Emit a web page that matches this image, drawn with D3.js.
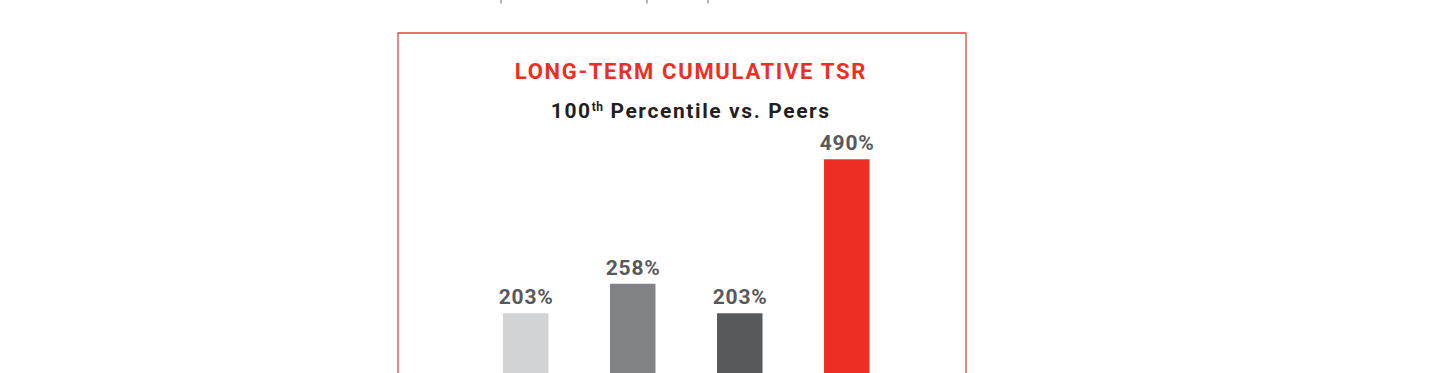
<!DOCTYPE html>
<html>
<head>
<meta charset="utf-8">
<script src="https://cdn.jsdelivr.net/npm/d3@7"></script>
<style>
  body { margin: 0; background: #fff; }
  text { font-family: Roboto, "Liberation Sans", sans-serif; font-weight: 700; }
</style>
</head>
<body>
<div id="chart"></div>
<script>
var categories = ["Peer Median", "Peer Top Quartile", "Index", "Company"];
var values = [203, 258, 203, 490];
var labels = ["203%", "258%", "203%", "490%"];
var colors = ["#d1d3d4", "#808285", "#58595b", "#ee2e24"];
var title = "LONG-TERM CUMULATIVE TSR";
var subtitle = ["100", "th", " Percentile vs. Peers"];
var topRules = [501, 647, 708];

var W = 1440, H = 373;
var box = {left: 398, top: 33, right: 966};
var plot = {left: 503, right: 869.5, base: 422.2, top: 153.9};

var svg = d3.select("#chart").append("svg").attr("width", W).attr("height", H);

// cut-off separators from the block above
svg.selectAll("line.rule").data(topRules).enter().append("line")
  .attr("x1", function(d) { return d; }).attr("x2", function(d) { return d; })
  .attr("y1", 0).attr("y2", 3.5)
  .style("stroke", "#6d6e71").style("stroke-width", 1);

// frame (runs past the bottom of the window)
svg.append("path")
  .attr("d", "M" + box.left + "," + (H + 20) + "V" + box.top + "H" + box.right + "V" + (H + 20))
  .style("fill", "none").style("stroke", "#e8423b").style("stroke-width", 1.3);

var cx = 690;
svg.append("text").attr("x", cx + 0.85).attr("y", 79).attr("text-anchor", "middle")
  .style("font-size", "22px").style("letter-spacing", "1.7px").style("fill", "#ee2e24")
  .text(title);

var st = svg.append("text").attr("x", cx + 0.8).attr("y", 118).attr("text-anchor", "middle")
  .style("font-size", "21px").style("letter-spacing", "1.6px").style("fill", "#231f20");
st.append("tspan").text(subtitle[0]);
st.append("tspan").attr("dy", -7).style("font-size", "12px").style("letter-spacing", "0.5px").text(subtitle[1]);
st.append("tspan").attr("dy", 7).text(subtitle[2]);

var x = d3.scaleBand().domain(categories).range([plot.left, plot.right]).paddingInner(0.575).paddingOuter(0);
var y = d3.scaleLinear().domain([0, 500]).range([plot.base, plot.top]);

var data = categories.map(function(c, i) { return {cat: c, v: values[i], lab: labels[i], col: colors[i]}; });

svg.selectAll("rect.bar").data(data).enter().append("rect")
  .attr("x", function(d) { return x(d.cat); })
  .attr("y", function(d) { return y(d.v); })
  .attr("width", x.bandwidth())
  .attr("height", function(d) { return y(0) - y(d.v); })
  .style("fill", function(d) { return d.col; });

svg.selectAll("text.val").data(data).enter().append("text")
  .attr("x", function(d) { return x(d.cat) + x.bandwidth() / 2 + 0.4; })
  .attr("y", function(d) { return y(d.v) - 9; })
  .attr("text-anchor", "middle")
  .style("font-size", "21px").style("letter-spacing", "0.8px").style("fill", "#58595b")
  .text(function(d) { return d.lab; });
</script>
</body>
</html>
